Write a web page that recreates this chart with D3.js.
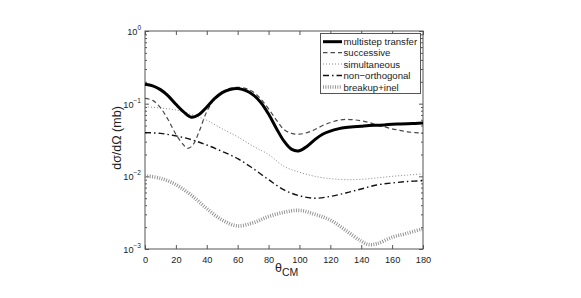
<!DOCTYPE html>
<html><head><meta charset="utf-8">
<script src="https://cdn.jsdelivr.net/npm/d3@7"></script>
<style>
html,body{margin:0;padding:0;background:#fff;}
svg{display:block;font-family:"Liberation Sans",Arial,Helvetica,sans-serif;}
</style></head>
<body>
<svg id="chart" width="581" height="298"></svg>
<script>
// ---- data ----
const xTicks = [0,20,40,60,80,100,120,140,160,180];
const yTicks = [1e-3,1e-2,1e-1,1e0];
const yTickExp = ["\u22123","\u22122","\u22121","0"];
const seriesNames = ["multistep transfer","successive","simultaneous","non\u2212orthogonal","breakup+inel"];

const thetaMulti = [0,5,10,15,20,25,30,35,40,45,50,55,60,65,70,75,80,85,90,95,100,105,110,115,120,125,130,135,140,145,150,155,160,165,170,175,180];
const multistep = [0.185,0.176,0.156,0.128,0.098,0.077,0.065,0.071,0.090,0.117,0.142,0.157,0.162,0.152,0.132,0.104,0.072,0.046,0.0305,0.0235,0.0225,0.026,0.032,0.038,0.042,0.045,0.047,0.048,0.049,0.050,0.0505,0.051,0.052,0.0525,0.053,0.0535,0.054];

const thetaSucc = [0,5,10,15,20,25,28,31,35,40,45,50,55,60,65,70,75,80,85,90,95,100,105,110,115,120,125,130,135,140,145,150,155,160,165,170,175,180];
const successive = [0.118,0.111,0.088,0.060,0.038,0.027,0.0243,0.027,0.041,0.078,0.115,0.145,0.162,0.168,0.162,0.145,0.116,0.085,0.060,0.044,0.039,0.038,0.040,0.044,0.050,0.055,0.059,0.061,0.060,0.058,0.055,0.051,0.048,0.045,0.043,0.041,0.040,0.039];

const thetaSmooth = [0,10,20,30,40,50,60,70,80,90,100,110,120,130,140,150,160,170,180];
const simultaneous = [0.091,0.087,0.082,0.071,0.059,0.045,0.035,0.026,0.020,0.0137,0.0114,0.0100,0.0093,0.0090,0.0091,0.0095,0.0100,0.0104,0.0108];
const nonOrthogonal = [0.040,0.039,0.036,0.032,0.027,0.022,0.0175,0.0128,0.0090,0.0065,0.0054,0.0050,0.0053,0.0059,0.0067,0.0076,0.0081,0.0085,0.0087];

const thetaBreak = [0,10,20,30,40,50,60,70,80,90,100,110,120,130,140,145,150,160,170,180];
const breakup = [0.0102,0.0094,0.0077,0.0055,0.0036,0.0025,0.00208,0.0023,0.0028,0.0032,0.0034,0.0030,0.0025,0.0018,0.00128,0.00115,0.00118,0.00145,0.00165,0.0019];

// ---- layout ----
const L = 145, R = 423, T = 31, B = 249;
const svg = d3.select("#chart");
const x = d3.scaleLinear().domain([0,180]).range([L,R]);
const y = d3.scaleLog().domain([1e-3,1]).range([B,T]);
const axisColor = "#555";
const textColor = "#222";

// frame
svg.append("rect").attr("x",L).attr("y",T).attr("width",R-L).attr("height",B-T)
  .attr("fill","none").attr("stroke",axisColor).attr("stroke-width",1);

// x axes (bottom + top ticks inward)
const xb = svg.append("g").attr("transform",`translate(0,${B})`)
  .call(d3.axisBottom(x).tickValues(xTicks).tickSize(-4).tickPadding(7).tickFormat(d3.format("d")));
const xt = svg.append("g").attr("transform",`translate(0,${T})`)
  .call(d3.axisTop(x).tickValues(xTicks).tickSize(-4).tickFormat(""));
// y axes
const minor = [];
for (let e=-3;e<0;e++) for (let m=2;m<10;m++) minor.push(m*Math.pow(10,e));
const yl = svg.append("g").attr("transform",`translate(${L},0)`)
  .call(d3.axisLeft(y).tickValues(yTicks).tickSize(-4).tickFormat(""));
const ylm = svg.append("g").attr("transform",`translate(${L},0)`)
  .call(d3.axisLeft(y).tickValues(minor).tickSize(-2).tickFormat(""));
const yr = svg.append("g").attr("transform",`translate(${R},0)`)
  .call(d3.axisRight(y).tickValues(yTicks).tickSize(-4).tickFormat(""));
const yrm = svg.append("g").attr("transform",`translate(${R},0)`)
  .call(d3.axisRight(y).tickValues(minor).tickSize(-2).tickFormat(""));
[xb,xt,yl,ylm,yr,yrm].forEach(g=>{
  g.select(".domain").remove();
  g.selectAll(".tick line").attr("stroke",axisColor);
  g.selectAll("text").attr("font-size",9.2).attr("fill",textColor).attr("font-family","Liberation Sans, Arial, sans-serif");
});

// y tick labels with superscripts
yTicks.forEach((v,i)=>{
  const t = svg.append("text").attr("x",L-4).attr("y",y(v)+4)
    .attr("text-anchor","end").attr("font-size",9.2).attr("fill",textColor);
  t.append("tspan").text("10");
  t.append("tspan").attr("dy",-5).attr("font-size",6.5).text(yTickExp[i]);
});

// axis labels
svg.append("text").attr("transform",`translate(121,${(T+B)/2 - 2}) rotate(-90)`)
  .attr("text-anchor","middle").attr("font-size",12.5).attr("fill",textColor)
  .text("d\u03c3/d\u03a9 (mb)");
const xl = svg.append("text").attr("x",275).attr("y",271.5).attr("font-size",12.5).attr("fill",textColor);
xl.append("tspan").text("\u03b8");
xl.append("tspan").attr("dy",4.5).attr("font-size",10.5).text("CM");

// ---- series ----
const styles = [
  {stroke:"#000", width:3, dash:null},
  {stroke:"#4a4a4a", width:1.2, dash:"4.5,3"},
  {stroke:"#888", width:1, dash:"1,2"},
  {stroke:"#111", width:1.4, dash:"6,3,1.5,3"},
  {stroke:"#8c8c8c", width:3.6, dash:"0.9,1.5"}
];
const series = [
  {th:thetaMulti, v:multistep},
  {th:thetaSucc, v:successive},
  {th:thetaSmooth, v:simultaneous},
  {th:thetaSmooth, v:nonOrthogonal},
  {th:thetaBreak, v:breakup}
];
const line = d3.line().x(d=>x(d[0])).y(d=>y(d[1])).curve(d3.curveCatmullRom.alpha(0.5));
const plot = svg.append("g");
[4,3,2,1,0].forEach(i=>{
  const s = series[i], st = styles[i];
  plot.append("path").datum(s.th.map((t,j)=>[t,s.v[j]]))
    .attr("d",line).attr("fill","none").attr("stroke",st.stroke)
    .attr("stroke-width",st.width).attr("stroke-dasharray",st.dash);
});

// ---- legend ----
const lg = svg.append("g");
lg.append("rect").attr("x",320.5).attr("y",33.5).attr("width",100).attr("height",60)
  .attr("fill","#fff").attr("stroke",axisColor).attr("stroke-width",1);
const rowY = [41.7,52.7,64,75.5,87];
seriesNames.forEach((n,i)=>{
  const st = styles[i];
  lg.append("line").attr("x1",323).attr("x2",342).attr("y1",rowY[i]).attr("y2",rowY[i])
    .attr("stroke",st.stroke).attr("stroke-width",st.width).attr("stroke-dasharray",st.dash);
  lg.append("text").attr("x",343.5).attr("y",rowY[i]+3.5).attr("font-size",9.6).attr("fill",textColor).text(n);
});
</script>
</body></html>
